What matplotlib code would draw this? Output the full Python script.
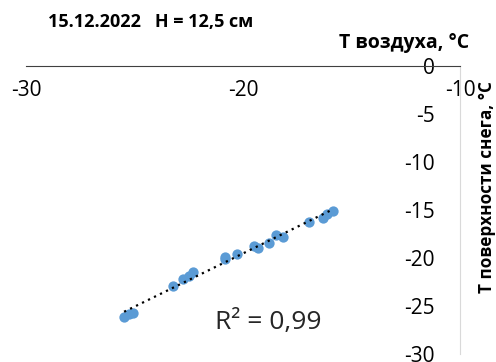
import numpy as np
import matplotlib.pyplot as plt

plt.rcParams['font.family'] = ['Open Sans', 'DejaVu Sans']

# температура воздуха и поверхности снега, 15.12.2022
t_vozduh = [-25.48, -25.25, -25.07, -23.21, -22.78, -22.47, -22.32, -20.83,
            -20.83, -20.29, -19.49, -19.29, -18.79, -18.48, -18.14, -16.96,
            -16.33, -16.11, -15.87]
t_sneg = [-26.15, -25.8, -25.7, -22.9, -22.2, -21.9, -21.5, -19.9,
          -20.1, -19.6, -18.8, -18.96, -18.4, -17.6, -17.8, -16.2,
          -15.8, -15.4, -15.1]

x_ticks = [-30, -20, -10]
y_ticks = [0, -5, -10, -15, -20, -25, -30]

fig = plt.figure(figsize=(4.96, 3.62), dpi=100)
ax = fig.add_axes([26 / 496, 1 - 354 / 362, 434 / 496, 288 / 362])

ax.scatter(t_vozduh, t_sneg, s=55, color='#5B9BD5', zorder=3, linewidths=0)

k, b = np.polyfit(t_vozduh, t_sneg, 1)
xs = np.array([min(t_vozduh), max(t_vozduh)])
ax.plot(xs, k * xs + b, color='black', linestyle=(0, (1, 2)), linewidth=1.6, zorder=4)

ax.set_xlim(-30, -10)
ax.set_ylim(-30, 0)
ax.set_xticks(x_ticks)
ax.set_yticks(y_ticks)
ax.set_xticklabels([str(v) for v in x_ticks], color='#595959')
ax.set_yticklabels([str(v) for v in y_ticks], color='#595959')
ax.tick_params(length=0, labelsize=15)
ax.tick_params(axis='x', pad=10)
ax.tick_params(axis='y', pad=18)

# оси пересекаются в правом верхнем углу
ax.spines['bottom'].set_position(('data', 0))
ax.spines['left'].set_position(('data', -10))
ax.spines['bottom'].set_color('#404040')
ax.spines['left'].set_color('#D9D9D9')
ax.spines['top'].set_visible(False)
ax.spines['right'].set_visible(False)

fig.text(48 / 496, 1 - 22 / 362, '15.12.2022   H = 12,5 см', fontsize=13,
         fontweight='bold', va='center', ha='left')
fig.text(469 / 496, 1 - 43 / 362, 'T воздуха, °C', fontsize=14,
         fontweight='bold', va='center', ha='right')
fig.text(487 / 496, 1 - 187 / 362, 'T поверхности снега, °C', fontsize=12.3,
         fontweight='bold', va='center', ha='center', rotation=90)
fig.text(215 / 496, 1 - 323 / 362, 'R² = 0,99', fontsize=19,
         ha='left', va='center', color='#262626')

fig.savefig('out.png', dpi=100)
